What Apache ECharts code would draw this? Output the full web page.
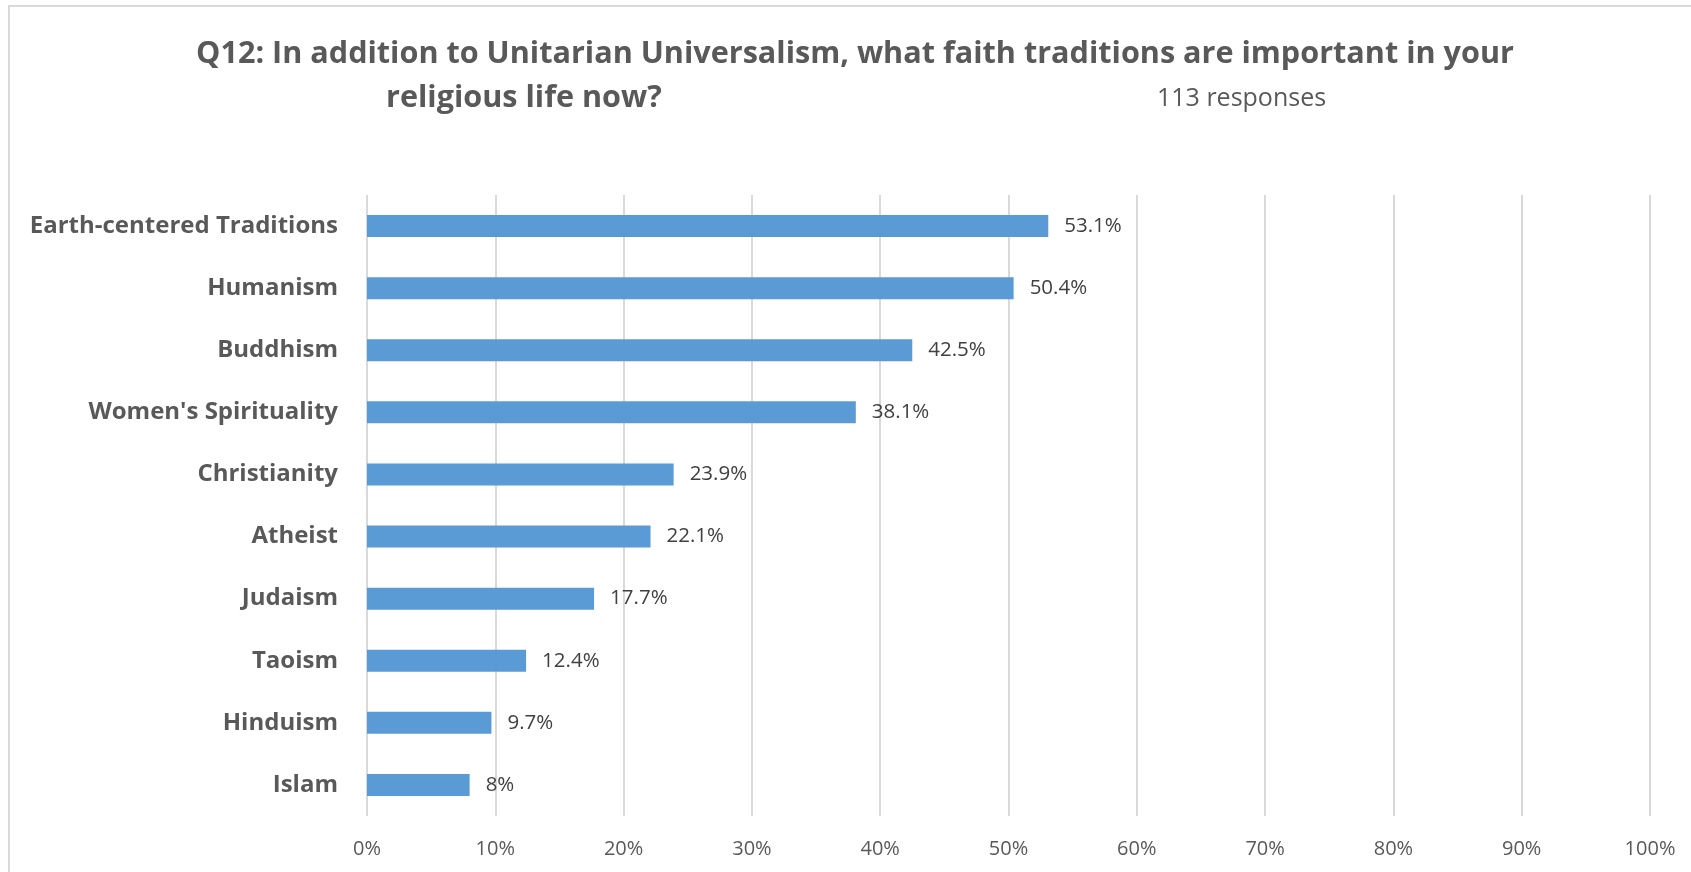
<!DOCTYPE html>
<html>
<head>
<meta charset="utf-8">
<script src="https://cdn.jsdelivr.net/npm/echarts@6/dist/echarts.min.js"></script>
<style>
  html, body { margin: 0; padding: 0; background: #ffffff; }
  #chart { width: 1691px; height: 872px; }
</style>
</head>
<body>
<div id="chart"></div>
<script>
const titleLine1 = 'Q12: In addition to Unitarian Universalism, what faith traditions are important in your';
const titleLine2 = 'religious life now?';
const responsesText = '113 responses';

const categories = [
  'Earth-centered Traditions',
  'Humanism',
  'Buddhism',
  "Women's Spirituality",
  'Christianity',
  'Atheist',
  'Judaism',
  'Taoism',
  'Hinduism',
  'Islam'
];
const percentValues = [53.1, 50.4, 42.5, 38.1, 23.9, 22.1, 17.7, 12.4, 9.7, 8];
const axisTicks = [0, 10, 20, 30, 40, 50, 60, 70, 80, 90, 100];

const FONT = '"Open Sans", "Noto Sans", sans-serif';
const TEXT_GRAY = '#595959';

const chart = echarts.init(document.getElementById('chart'), null, { renderer: 'canvas' });

chart.setOption({
  backgroundColor: '#ffffff',
  animation: false,
  title: [
    {
      text: titleLine1,
      left: 855, top: 39, textAlign: 'center', padding: 0,
      textStyle: { fontFamily: FONT, fontWeight: 'bold', fontSize: 30.6, color: TEXT_GRAY }
    },
    {
      text: titleLine2,
      left: 386, top: 83, padding: 0,
      textStyle: { fontFamily: FONT, fontWeight: 'bold', fontSize: 30.6, color: TEXT_GRAY }
    },
    {
      text: responsesText,
      left: 1157, top: 86, padding: 0,
      textStyle: { fontFamily: FONT, fontWeight: 'normal', fontSize: 25, color: TEXT_GRAY }
    }
  ],
  graphic: [
    {
      type: 'rect', silent: true, z: -1,
      shape: { x: 9, y: 6, width: 1720, height: 900 },
      style: { fill: 'none', stroke: '#d9d9d9', lineWidth: 2 }
    }
  ],
  grid: { left: 367, right: 41, top: 195, bottom: 56, containLabel: false },
  xAxis: {
    type: 'value',
    min: axisTicks[0],
    max: axisTicks[axisTicks.length - 1],
    interval: axisTicks[1] - axisTicks[0],
    axisLine: { show: false },
    axisTick: { show: false },
    splitLine: { show: true, lineStyle: { color: '#d9d9d9', width: 2 } },
    axisLabel: {
      formatter: '{value}%', margin: 23,
      fontFamily: FONT, fontSize: 20, color: TEXT_GRAY
    }
  },
  yAxis: {
    type: 'category',
    data: categories,
    inverse: true,
    axisLine: { show: false },
    axisTick: { show: false },
    axisLabel: {
      margin: 29,
      fontFamily: FONT, fontWeight: 'bold', fontSize: 24, color: TEXT_GRAY
    }
  },
  series: [
    {
      type: 'bar',
      data: percentValues,
      barWidth: 22,
      itemStyle: { color: '#5b9bd5' },
      label: {
        show: true, position: 'right', distance: 16,
        formatter: p => p.value + '%',
        fontFamily: FONT, fontSize: 20.5, color: '#404040'
      }
    }
  ]
});
</script>
</body>
</html>
